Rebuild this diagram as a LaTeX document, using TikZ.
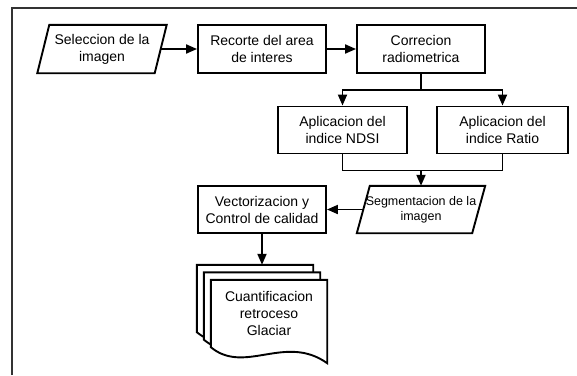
\documentclass[tikz,border=0pt]{standalone}
\usepackage{fontspec}
\setmainfont{Liberation Sans}
\usetikzlibrary{arrows.meta,calc}

\tikzset{
txt/.style={font=\fontsize{14}{17}\selectfont, align=center},
proc/.style={txt, draw, line width=1.9pt, fill=white,
  minimum width=128pt, minimum height=48pt, inner sep=2pt},
io/.style={txt, minimum width=117pt, minimum height=48pt, inner sep=0pt},
docshape/.style={minimum width=116pt, minimum height=83pt, inner sep=0pt},
flow/.style={line width=1.9pt, -{Triangle[length=11pt,width=9pt]}},
plainline/.style={line width=1.9pt}
}

\begin{document}
\begin{tikzpicture}[x=1pt,y=-1pt]
\useasboundingbox (0,0) rectangle (577,375);
% frame
\draw[line width=1.8pt, black!80] (12,375) -- (12,8) -- (577,8);

% first row
\node[io] (sel) at (102,49) {Seleccion de la\\imagen};
\node[proc] (rec) at (262,49) {Recorte del area\\de interes};
\node[proc] (cor) at (421,49) {Correcion\\radiometrica};

% indices
\node[proc, minimum width=129pt, minimum height=47pt] (ndsi) at (342.5,130) {Aplicacion del\\indice NDSI};
\node[proc, minimum width=131pt, minimum height=47pt] (ratio) at (502.5,130) {Aplicacion del\\indice Ratio};

% segmentation and vectors
\node[io, minimum width=115pt, minimum height=47pt, font=\fontsize{12.5}{15}\selectfont] (seg) at (421,209.5) {Segmentacion de la\\imagen};
\node[proc, minimum height=47pt] (vec) at (262,209.5) {Vectorizacion y\\Control de calidad};

% parallelograms
\draw[plainline] ([xshift=-6pt]sel.south west) -- ([xshift=6pt]sel.north west)
  -- ([xshift=6pt]sel.north east) -- ([xshift=-6pt]sel.south east) -- cycle;
\draw[plainline] ([xshift=-6.5pt]seg.south west) -- ([xshift=6.5pt]seg.north west)
  -- ([xshift=6.5pt]seg.north east) -- ([xshift=-6.5pt]seg.south east) -- cycle;

% documents
\node[docshape] (doca) at (255,306.5) {};
\node[docshape] (docb) at (262,314) {};
\node[docshape] (docc) at (269,321.5) {};
\foreach \d in {doca,docb,docc}
  \draw[plainline, fill=white] (\d.north west) -- (\d.north east) -- (\d.south east)
    .. controls ($(\d.south east)+(-42,-30)$) and ($(\d.south west)+(34,12)$) .. ($(\d.south west)+(0,-16)$) -- cycle;
\node[txt] (cuant) at (269,313) {Cuantificacion\\retroceso\\Glaciar};

% connectors
\draw[flow] (sel) -- (rec);
\draw[flow] (rec) -- (cor);
\draw[plainline] (cor.south) -- ++(0,16) coordinate (split);
\draw[flow] (split) -| (ndsi.north);
\draw[flow] (split) -| (ratio.north);
\draw[plainline] (ndsi.south) -- ++(0,16) coordinate (join) -| (ratio.south);
\draw[flow] (join -| seg.north) -- (seg.north);
\draw[flow] (seg) -- (vec);
\draw[flow] (vec.south) -- (vec.south |- doca.north);
\end{tikzpicture}
\end{document}
